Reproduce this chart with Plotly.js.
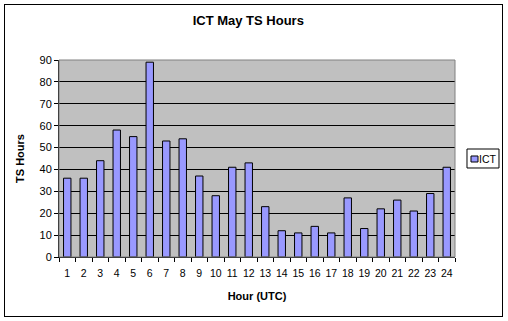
<!DOCTYPE html>
<html>
<head>
<meta charset="utf-8">
<script src="https://cdn.plot.ly/plotly-3.0.1.min.js"></script>
<style>
html,body{margin:0;padding:0;background:#fff;}
#wrap{position:relative;width:508px;height:321px;}
#chart{width:508px;height:321px;}
#frame{position:absolute;left:4px;top:4px;width:497px;height:311px;border:1px solid #000;pointer-events:none;}
</style>
</head>
<body>
<div id="wrap"><div id="chart"></div><div id="frame"></div></div>
<script>
const hours = ["1","2","3","4","5","6","7","8","9","10","11","12","13","14","15","16","17","18","19","20","21","22","23","24"];
const ictValues = [36,36,44,58,55,89,53,54,37,28,41,43,23,12,11,14,11,27,13,22,26,21,29,41];
const yTicks = [0,10,20,30,40,50,60,70,80,90];
const seriesName = 'ICT';
const barColor = '#9999FF';

const trace = {
  type: 'bar',
  name: seriesName,
  x: hours,
  y: ictValues,
  marker: {color: barColor, line: {color: '#000', width: 1}},
  hoverinfo: 'skip',
  showlegend: false
};

const layout = {
  width: 508, height: 321,
  margin: {l: 59, r: 53, t: 60, b: 64},
  paper_bgcolor: '#fff',
  plot_bgcolor: '#C0C0C0',
  bargap: 0.55,
  font: {family: 'Arial, Liberation Sans, sans-serif', size: 11, color: '#000'},
  title: {text: '<b>ICT May TS Hours</b>', font: {size: 13, color: '#000'}, x: 0.478, xref: 'paper', y: 0.95, yref: 'container'},
  xaxis: {
    type: 'category',
    title: {text: '<b>Hour (UTC)</b>', font: {size: 11}, standoff: 14},
    tickson: 'boundaries',
    tickangle: 0,
    ticklabelstandoff: 6,
    ticks: 'outside', ticklen: 4, tickcolor: '#000', tickwidth: 1,
    showline: true, linecolor: '#000', linewidth: 1,
    showgrid: false, zeroline: false,
    tickfont: {size: 10.5}
  },
  yaxis: {
    range: [0, 90],
    tickvals: yTicks,
    title: {text: '<b>TS Hours</b>', font: {size: 11}, standoff: 12},
    ticks: 'outside', ticklen: 4, tickcolor: '#000',
    showline: true, linecolor: '#000', linewidth: 1,
    showgrid: true, gridcolor: '#000', gridwidth: 1,
    zeroline: false,
    tickfont: {size: 11}
  },
  showlegend: false,
  annotations: [{
    xref: 'paper', yref: 'paper', x: 1.056, y: 0.5, xanchor: 'left', yanchor: 'middle',
    text: seriesName, showarrow: false, font: {size: 10.5, color: '#000'}
  }],
  shapes: [
    {type: 'rect', xref: 'paper', yref: 'paper', x0: 0, x1: 1, y0: 0, y1: 1,
     line: {color: '#808080', width: 1}, fillcolor: 'rgba(0,0,0,0)', layer: 'above'},
    {type: 'rect', xref: 'paper', yref: 'paper', x0: 1.0303, x1: 1.1111, y0: 0.4518, y1: 0.5482,
     line: {color: '#000', width: 1}, fillcolor: '#fff'},
    {type: 'rect', xref: 'paper', yref: 'paper', x0: 1.0404, x1: 1.0581, y0: 0.4822, y1: 0.5127,
     line: {color: '#000', width: 1}, fillcolor: barColor}
  ]
};

Plotly.newPlot('chart', [trace], layout, {staticPlot: true, displayModeBar: false});
</script>
</body>
</html>
